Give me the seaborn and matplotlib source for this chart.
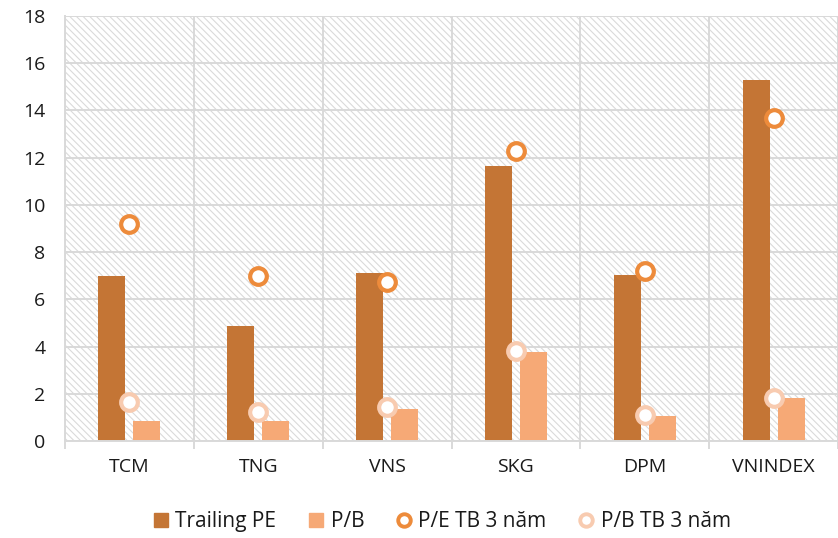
import numpy as np
import pandas as pd
import matplotlib
matplotlib.use("Agg")
import matplotlib.pyplot as plt
import seaborn as sns
from matplotlib.patches import Rectangle
from matplotlib.lines import Line2D
from matplotlib.ticker import FixedLocator

# DATA
tickers = ["TCM", "TNG", "VNS", "SKG", "DPM", "VNINDEX"]
trailing_pe = [7.0, 4.85, 7.1, 11.65, 7.05, 15.3]
pb = [0.85, 0.85, 1.35, 3.75, 1.06, 1.83]
pe_avg_3y = [9.2, 7.0, 6.75, 12.3, 7.2, 13.7]
pb_avg_3y = [1.65, 1.23, 1.45, 3.8, 1.1, 1.83]

series_names = ["Trailing PE", "P/B", "P/E TB 3 năm", "P/B TB 3 năm"]
colors = ["#C47535", "#F6A976", "#ED8B3B", "#F8CBB0"]
GRID = "#d9d9d9"

bars = pd.DataFrame({
    "ticker": tickers * 2,
    "series": [series_names[0]] * len(tickers) + [series_names[1]] * len(tickers),
    "value": trailing_pe + pb,
})
avgs = pd.DataFrame({"ticker": tickers, "pe_avg": pe_avg_3y, "pb_avg": pb_avg_3y})

sns.set_theme(style="white")
plt.rcParams["font.family"] = ["Open Sans", "DejaVu Sans"]
plt.rcParams["hatch.linewidth"] = 0.8

fig = plt.figure(figsize=(8.38, 5.38), dpi=100)
ax = fig.add_axes([65 / 838, 1 - 441 / 538, 1 - 65 / 838, 425 / 538])

# hatched plot background
ax.add_patch(Rectangle((0, 0), 1, 1, transform=ax.transAxes, facecolor="white",
                       edgecolor="#dadada", hatch="\\" * 5, lw=0, zorder=0.1))

sns.barplot(data=bars, x="ticker", y="value", hue="series", order=tickers,
            hue_order=series_names[:2], palette=colors[:2], width=0.544, gap=0.23,
            linewidth=0, saturation=1, legend=False, ax=ax, zorder=2)

for col, c in [("pe_avg", colors[2]), ("pb_avg", colors[3])]:
    sns.pointplot(data=avgs, x="ticker", y=col, order=tickers, color=c,
                  linestyle="none", marker="o", errorbar=None, ax=ax)
    ln = ax.lines[-1]
    ln.set_markerfacecolor("white")
    ln.set_markeredgecolor(c)
    ln.set_markersize(12)
    ln.set_markeredgewidth(3)
    ln.set_zorder(3)

ax.set_xlim(-0.5, len(tickers) - 0.5)
ax.set_ylim(0, 18)
ax.set_yticks(np.arange(0, 19, 2))
ax.set_xlabel("")
ax.set_ylabel("")
ax.set_axisbelow(True)
ax.grid(axis="y", color=GRID, lw=1.4)
ax.xaxis.set_minor_locator(FixedLocator(np.arange(-0.5, len(tickers), 1)))
ax.grid(axis="x", which="minor", color=GRID, lw=1.4)
ax.tick_params(axis="x", which="major", length=0, pad=12, labelsize=14, labelcolor="#1a1a1a")
ax.tick_params(axis="x", which="minor", length=6, width=1.4, color=GRID, direction="out", bottom=True)
ax.tick_params(axis="y", length=0, pad=14, labelsize=14, labelcolor="#1a1a1a")
for side in ["top", "right"]:
    ax.spines[side].set_visible(False)
for side in ["left", "bottom"]:
    ax.spines[side].set_color(GRID)
    ax.spines[side].set_linewidth(1.4)

handles = [
    Line2D([], [], ls="none", marker="s", markersize=10, color=colors[0]),
    Line2D([], [], ls="none", marker="s", markersize=10, color=colors[1]),
    Line2D([], [], ls="none", marker="o", markersize=9, mfc="white", mec=colors[2], mew=2.8),
    Line2D([], [], ls="none", marker="o", markersize=9, mfc="white", mec=colors[3], mew=2.8),
]
fig.legend(handles, series_names, loc="center", bbox_to_anchor=(0.527, 0.03), ncol=4,
           frameon=False, fontsize=15, handlelength=0.8, handletextpad=0.3,
           columnspacing=1.5, labelcolor="#1a1a1a")

fig.savefig("out.png", dpi=100)
